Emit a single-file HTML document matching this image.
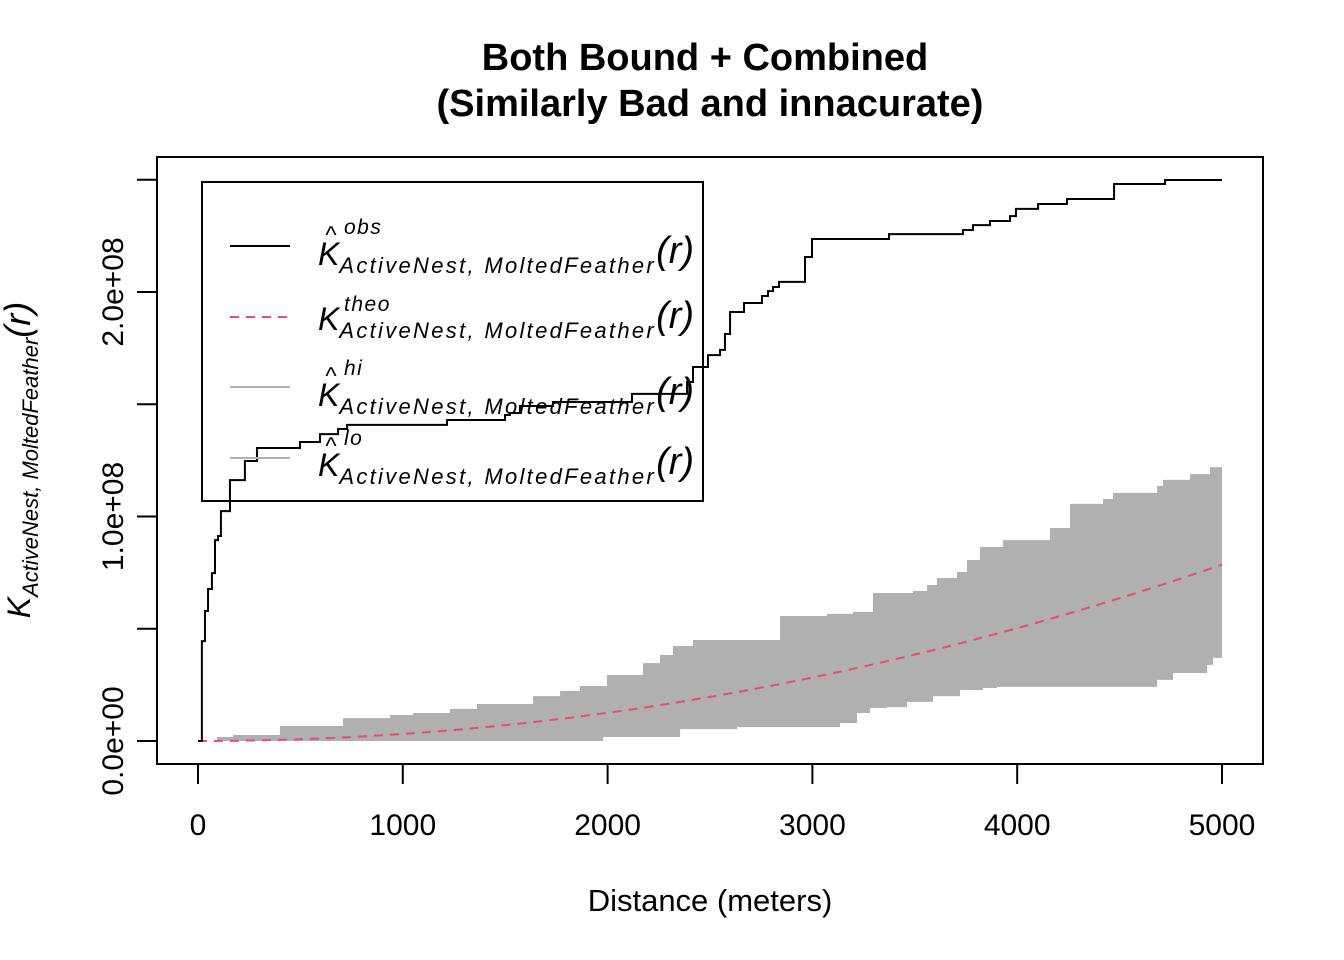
<!DOCTYPE html>
<html><head><meta charset="utf-8"><style>
body{margin:0;background:#fff}
svg{display:block;font-family:"Liberation Sans",Arial,sans-serif}
</style></head><body>
<svg id="chart" width="1344" height="960" viewBox="0 0 1344 960">
<text x="705" y="70" text-anchor="middle" font-size="38" font-weight="bold">Both Bound + Combined</text>
<text x="710" y="116" text-anchor="middle" font-size="38" font-weight="bold">(Similarly Bad and innacurate)</text>
<g id="plot"></g>
<rect x="157" y="157" width="1106" height="607" fill="none" stroke="#000" stroke-width="2"/>
<g id="xaxis"></g>
<g id="yaxis"></g>
<text x="710" y="911" text-anchor="middle" font-size="31">Distance (meters)</text>
<text transform="translate(30,460) rotate(-90)" text-anchor="middle" font-size="32" font-style="italic">K<tspan font-size="22" dy="8">ActiveNest, MoltedFeather</tspan><tspan font-size="36" dy="-8" font-style="italic">(r)</tspan></text>
<g>
<rect x="202" y="182" width="501" height="319" fill="none" stroke="#000" stroke-width="2"/>
<line x1="230" y1="246" x2="290" y2="246" stroke="#000" stroke-width="2"/>
<line x1="230" y1="317" x2="290" y2="317" stroke="#DF536B" stroke-width="2" stroke-dasharray="9,7"/>
<line x1="230" y1="387" x2="290" y2="387" stroke="#b0b0b0" stroke-width="2"/>
<line x1="230" y1="458" x2="290" y2="458" stroke="#b0b0b0" stroke-width="2"/>
<g font-style="italic">
<text x="318" y="265" font-size="32">K<tspan font-size="22" dy="8" letter-spacing="2.3">ActiveNest, MoltedFeather</tspan><tspan font-size="38" dy="-10">(r)</tspan></text>
<text x="325" y="243" font-size="24">^</text>
<text x="344" y="234" font-size="21" letter-spacing="1.5">obs</text>
<text x="318" y="330" font-size="32">K<tspan font-size="22" dy="8" letter-spacing="2.3">ActiveNest, MoltedFeather</tspan><tspan font-size="38" dy="-10">(r)</tspan></text>
<text x="344" y="311" font-size="21" letter-spacing="1.5">theo</text>
<text x="318" y="406" font-size="32">K<tspan font-size="22" dy="8" letter-spacing="2.3">ActiveNest, MoltedFeather</tspan><tspan font-size="38" dy="-10">(r)</tspan></text>
<text x="325" y="384" font-size="24">^</text>
<text x="344" y="375" font-size="21" letter-spacing="1.5">hi</text>
<text x="318" y="476" font-size="32">K<tspan font-size="22" dy="8" letter-spacing="2.3">ActiveNest, MoltedFeather</tspan><tspan font-size="38" dy="-10">(r)</tspan></text>
<text x="325" y="454" font-size="24">^</text>
<text x="344" y="445" font-size="21" letter-spacing="1.5">lo</text>
</g>
</g>
</svg>
<script>
// distances in meters, K in units of 1e8
const obsR = [0,19,34,49,68,83,98,112,156,229,288,498,596,684,728,1216,1499,1523,1572,1733,2119,2388,2417,2490,2549,2573,2598,2666,2754,2783,2808,2837,2964,2998,3374,3735,3784,3867,3965,3994,4102,4243,4473,4722,5000];
const obsK = [0,0.445,0.579,0.677,0.748,0.895,0.913,1.024,1.162,1.247,1.305,1.332,1.367,1.390,1.408,1.430,1.452,1.461,1.492,1.510,1.546,1.599,1.666,1.719,1.742,1.813,1.911,1.951,1.982,2.004,2.022,2.045,2.156,2.236,2.258,2.276,2.298,2.316,2.338,2.370,2.392,2.414,2.481,2.499,2.499];
const hiR = [0,93,171,400,708,938,1050,1230,1362,1636,1768,1865,1997,2173,2256,2319,2417,2842,3071,3198,3296,3491,3560,3608,3706,3755,3818,3931,4160,4258,4419,4468,4683,4712,4844,4941,5000];
const hiK = [0,0.018,0.027,0.067,0.102,0.116,0.125,0.143,0.165,0.200,0.223,0.245,0.294,0.347,0.383,0.423,0.450,0.557,0.566,0.575,0.659,0.668,0.695,0.726,0.753,0.806,0.864,0.895,0.949,1.056,1.078,1.105,1.136,1.163,1.189,1.220,1.220];
const loR = [0,1978,2354,2632,3135,3218,3281,3364,3462,3589,3721,3833,3901,4683,4761,4927,4956,5000];
const loK = [0,0.018,0.053,0.062,0.080,0.125,0.147,0.151,0.174,0.200,0.227,0.236,0.241,0.272,0.303,0.339,0.370,0.370];
const xTicks = [0,1000,2000,3000,4000,5000];
const xTickLabels = ["0","1000","2000","3000","4000","5000"];
const yTicks = [0,0.5,1,1.5,2,2.5];
const yTickLabels = ["0.0e+00","","1.0e+08","","2.0e+08",""];

const NS="http://www.w3.org/2000/svg";
const xs = r => 198 + r*0.2048;
const ys = k => 741 - k*224.5;
function mk(tag, attrs, parent){const e=document.createElementNS(NS,tag);for(const k in attrs)e.setAttribute(k,attrs[k]);parent.appendChild(e);return e;}
function stepPts(R,K){let p=[];for(let i=0;i<R.length;i++){if(i>0)p.push([xs(R[i]),ys(K[i-1])]);p.push([xs(R[i]),ys(K[i])]);}return p;}
const plot=document.getElementById('plot');
const hi=stepPts(hiR,hiK), lo=stepPts(loR,loK).reverse();
const env=mk('polygon',{points:hi.concat(lo).map(p=>p.join(',')).join(' '),fill:'#b0b0b0',stroke:'none'},plot);


let tp=[];for(let i=0;i<=100;i++){const r=5000*i/100;tp.push([xs(r),ys(Math.PI*r*r/1e8)]);}
const theo=mk('polyline',{points:tp.map(p=>p.join(',')).join(' '),fill:'none',stroke:'#DF536B','stroke-width':2,'stroke-dasharray':'9,7'},plot);


const obs=mk('polyline',{points:stepPts(obsR,obsK).map(p=>p.join(',')).join(' '),fill:'none',stroke:'#000','stroke-width':2},plot);


const xa=document.getElementById('xaxis');
mk('line',{x1:xs(xTicks[0]),y1:764,x2:xs(xTicks[xTicks.length-1]),y2:764,stroke:'#000','stroke-width':2},xa);
xTicks.forEach((t,i)=>{
 const l=mk('line',{x1:xs(t),y1:764,x2:xs(t),y2:784,stroke:'#000','stroke-width':2},xa);
 
 
 const tx=mk('text',{x:xs(t),y:835,'text-anchor':'middle','font-size':30},xa);
 tx.textContent=xTickLabels[i];
 
 
});
const ya=document.getElementById('yaxis');
mk('line',{x1:157,y1:ys(yTicks[0]),x2:157,y2:ys(yTicks[yTicks.length-1]),stroke:'#000','stroke-width':2},ya);
yTicks.forEach((t,i)=>{
 const l=mk('line',{x1:137,y1:ys(t),x2:157,y2:ys(t),stroke:'#000','stroke-width':2},ya);
 
 
 if(yTickLabels[i]){
  const tx=mk('text',{transform:`translate(123,${ys(t)}) rotate(-90)`,'text-anchor':'middle','font-size':30},ya);
  tx.textContent=yTickLabels[i];
  
  
 }
});
</script>
</body></html>
